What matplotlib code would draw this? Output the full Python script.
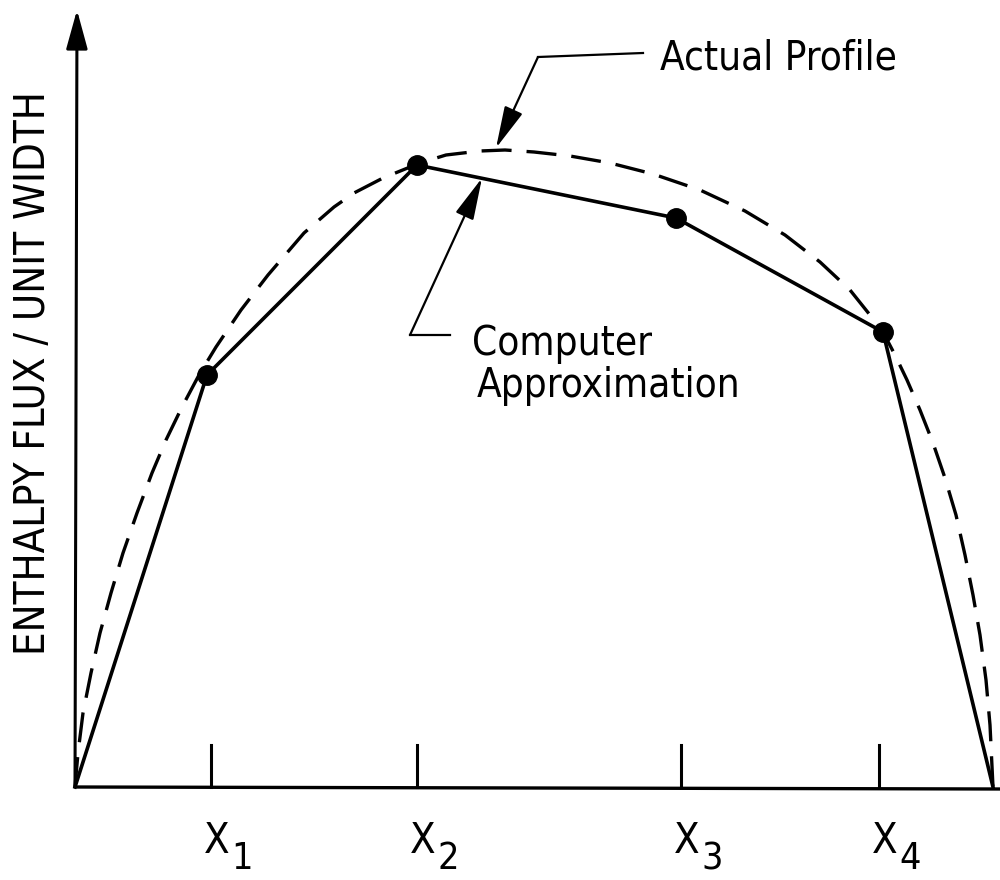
"""Enthalpy flux profile vs. piecewise computer approximation."""
import matplotlib
matplotlib.use("Agg")
import matplotlib.pyplot as plt
from matplotlib import font_manager

# computer approximation: straight segments between station values
approx_x = [0.00, 1.32, 3.42, 6.01, 8.08, 9.18]
approx_y = [0.00, 4.12, 6.22, 5.69, 4.55, 0.00]
# inner stations carry the round markers
station_idx = [1, 2, 3, 4]

# actual profile (dashed)
profile_x = [0.00, 0.03, 0.08, 0.16, 0.25, 0.36, 0.48, 0.62, 0.77, 0.91,
             1.07, 1.24, 1.41, 1.66, 1.93, 2.29, 2.59, 2.79, 3.08, 3.45,
             3.71, 4.05, 4.30, 4.59, 4.95, 5.35, 5.78, 6.25, 6.70, 7.10,
             7.45, 7.75, 7.95, 8.08, 8.20, 8.32, 8.45, 8.58, 8.70, 8.81,
             8.90, 8.98, 9.05, 9.11, 9.15, 9.18]
profile_y = [0.00, 0.34, 0.74, 1.14, 1.54, 1.94, 2.34, 2.74, 3.14, 3.47,
             3.80, 4.12, 4.40, 4.77, 5.12, 5.54, 5.80, 5.94, 6.09, 6.24,
             6.32, 6.36, 6.37, 6.35, 6.31, 6.24, 6.13, 5.97, 5.76, 5.52,
             5.25, 4.97, 4.72, 4.55, 4.32, 4.07, 3.77, 3.44, 3.09, 2.72,
             2.32, 1.92, 1.52, 1.07, 0.62, 0.00]

tick_x = [1.36, 3.42, 6.06, 8.04]
tick_sub = ["1", "2", "3", "4"]

names = {f.name for f in font_manager.fontManager.ttflist}
if "Liberation Sans Narrow" in names:
    FONT = dict(family="Liberation Sans Narrow")
else:
    FONT = dict(family="DejaVu Sans", stretch="condensed")

INK = "black"

fig = plt.figure(figsize=(10, 8.8), dpi=100)
ax = fig.add_axes([0, 0, 1, 1])
ax.set_xlim(-0.75, 9.25)
ax.set_ylim(-0.93, 7.87)
ax.axis("off")

# axes: arrowed ordinate, plain abscissa
ax.annotate("", xy=(0.02, 7.77), xytext=(0.0, 0.0),
            arrowprops=dict(arrowstyle="-|>,head_length=1.2,head_width=0.33",
                            mutation_scale=20, lw=2.2, color=INK,
                            shrinkA=0, shrinkB=0))
ax.plot([0.0, 9.25], [0.0, -0.02], color=INK, lw=2.4, solid_capstyle="butt")

for x, s in zip(tick_x, tick_sub):
    ax.plot([x, x], [0.0, 0.42], color=INK, lw=2.2)
    ax.text(x + 0.06, -0.66, "X", ha="center", va="baseline",
            fontsize=30, color=INK, **FONT)
    ax.text(x + 0.20, -0.82, s, ha="left", va="baseline",
            fontsize=27, color=INK, **FONT)

ax.plot(profile_x, profile_y, color=INK, lw=2.4, dashes=(9, 4.5),
        dash_capstyle="butt")
ax.plot(approx_x, approx_y, color=INK, lw=2.6, solid_joinstyle="round")
ax.plot([approx_x[i] for i in station_idx], [approx_y[i] for i in station_idx],
        "o", color=INK, ms=14)

ax.text(-0.30, 4.14, "ENTHALPY FLUX / UNIT WIDTH", rotation=90,
        rotation_mode="anchor", ha="center", va="baseline",
        fontsize=30, color=INK, **FONT)

# leader for the dashed curve
ax.plot([5.68, 4.63], [7.34, 7.30], color=INK, lw=1.6)
ax.annotate("", xy=(4.21, 6.39), xytext=(4.63, 7.30),
            arrowprops=dict(arrowstyle="-|>,head_length=1.3,head_width=0.3",
                            mutation_scale=20, lw=1.6, color=INK,
                            shrinkA=0, shrinkB=0))
ax.text(5.85, 7.17, "Actual Profile", ha="left", va="baseline",
        fontsize=29, color=INK, **FONT)

# leader for the piecewise line
ax.plot([3.75, 3.35], [4.52, 4.52], color=INK, lw=1.6)
ax.annotate("", xy=(4.07, 6.09), xytext=(3.35, 4.52),
            arrowprops=dict(arrowstyle="-|>,head_length=1.3,head_width=0.3",
                            mutation_scale=20, lw=1.6, color=INK,
                            shrinkA=0, shrinkB=0))
ax.text(3.97, 4.32, "Computer", ha="left", va="baseline",
        fontsize=29, color=INK, **FONT)
ax.text(4.02, 3.90, "Approximation", ha="left", va="baseline",
        fontsize=29, color=INK, **FONT)

fig.savefig("out.png", dpi=100, facecolor="white")
plt.close(fig)
